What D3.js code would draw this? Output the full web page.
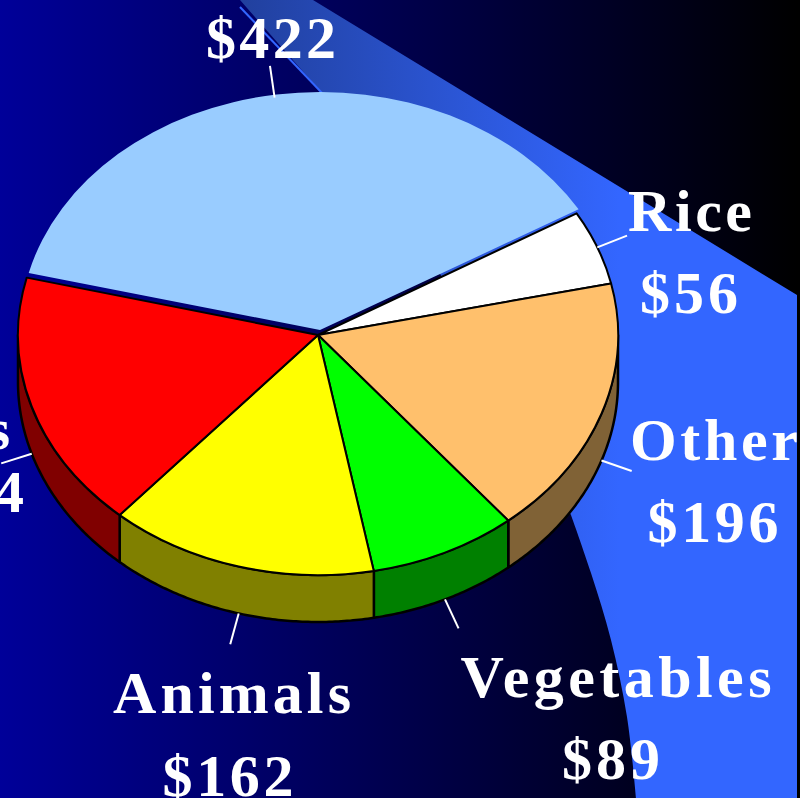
<!DOCTYPE html>
<html><head><meta charset="utf-8">
<style>html,body{margin:0;padding:0;background:#fff}svg{display:block}</style>
<script src="https://cdn.jsdelivr.net/npm/d3@7"></script></head>
<body><svg id="c" width="800" height="798"></svg>
<script>
const categories = ["", "Rice", "Other", "Vegetables", "Animals", "Fruits"];
const values = [422, 56, 196, 89, 162, 194];
const topColors = ["#99ccff", "#ffffff", "#ffc06c", "#00ff00", "#ffff00", "#ff0000"];
const sideColors = ["#4c6680", "#808080", "#806236", "#008000", "#808000", "#800000"];

const W = 797, H = 798, cx = 318, cy = 335, rx = 300, ry = 240, depth = 47;
const startDeg = 283.8;
const svg = d3.select("#c");
const defs = svg.append("defs");
const bg = defs.append("linearGradient").attr("id","bg").attr("gradientUnits","userSpaceOnUse")
  .attr("x1",0).attr("x2",W).attr("y1",0).attr("y2",0);
bg.append("stop").attr("offset",0).attr("stop-color","#000099");
bg.append("stop").attr("offset",1).attr("stop-color","#000000");
const bandGrad = defs.append("linearGradient").attr("id","band").attr("gradientUnits","userSpaceOnUse")
  .attr("x1",240).attr("x2",620).attr("y1",0).attr("y2",0);
bandGrad.append("stop").attr("offset",0).attr("stop-color","#21409e");
bandGrad.append("stop").attr("offset",1).attr("stop-color","#3366ff");

svg.append("rect").attr("width",800).attr("height",H).attr("fill","url(#bg)");

const bandCurve = d3.line().curve(d3.curveCatmullRom)([[636,798],[627,717],[611,640],[591,573],[571,515]]);
const bandTop = d3.line()([[571,515],[400,200],[322,93],[240,0],[313,0],[797,295],[797,798]]);
svg.append("path").attr("d", bandCurve + bandTop.replace(/^M/,"L") + "Z").attr("fill","url(#band)");
svg.append("path").attr("d", d3.line()([[240,7],[322,93]])).attr("fill","none").attr("stroke","#3366ff").attr("stroke-width",2);

const pie = d3.pie().sort(null).value(d=>d)
  .startAngle(startDeg*Math.PI/180).endAngle((startDeg+360)*Math.PI/180);
const arcs = pie(values);
const arc = d3.arc().innerRadius(0).outerRadius(1);
const px = a => cx + rx*Math.sin(a), py = a => cy - ry*Math.cos(a);
const norm = a => { const t = 2*Math.PI; return ((a%t)+t)%t; };

const g = svg.append("g");
const wall = d3.area().x(a=>px(a)).y0(a=>py(a)).y1(a=>py(a)+depth);
const lo = Math.PI/2, hi = 3*Math.PI/2;
arcs.forEach((d,i)=>{
  const span = d.endAngle-d.startAngle;
  const s0 = norm(d.startAngle), s1 = s0+span;
  const a0 = Math.max(s0,lo), a1 = Math.min(s1,hi);
  if (a1<=a0) return;
  const samples = d3.range(a0,a1,0.01).concat([a1]);
  g.append("path").attr("d",wall(samples)).attr("fill",sideColors[i]).attr("stroke","#000").attr("stroke-width",2.5).attr("stroke-linejoin","round");
});
arcs.forEach((d,i)=>{
  const exploded = i===0;
  const dx = exploded?2:0, dy = exploded?-5:0, sy = exploded?238:ry;
  g.append("path")
   .attr("transform",`translate(${cx+dx},${cy+dy}) scale(${rx},${sy})`)
   .attr("d",arc(d))
   .attr("fill",topColors[i])
   .attr("stroke",exploded?"none":"#000")
   .attr("stroke-width",exploded?0:2)
   .attr("stroke-linejoin","round")
   .attr("vector-effect","non-scaling-stroke");
});
const leaderLen = 32;
arcs.forEach((d,i)=>{
  const a = norm((d.startAngle+d.endAngle)/2);
  const drop = (a>lo && a<hi) ? depth : 0;
  const x0 = px(a), y0 = py(a)+drop;
  svg.append("line").attr("x1",x0).attr("y1",y0)
    .attr("x2",x0+leaderLen*Math.sin(a)).attr("y2",y0-leaderLen*Math.cos(a))
    .attr("stroke","#fff").attr("stroke-width",2);
});
const labels = svg.append("g").attr("font-family","'Liberation Serif','Times New Roman',serif").attr("font-weight","bold").attr("fill","#fff").attr("font-size",60);
const labelPos = [
  {x:271, vx:271, vy:58, vw:130},
  {x:690, y:231, w:124, vx:689, vy:313, vw:98},
  {x:714, y:460, w:168, vx:713, vy:542, vw:131},
  {x:616, y:697, w:311, vx:611, vy:779, vw:98},
  {x:232, y:713, w:238, vx:228, vy:796, vw:131},
  {x:-60, y:449, w:140, vx:-41, vy:512, vw:130}
];
labelPos.forEach((b,i)=>{
  if (categories[i]) labels.append("text").attr("x",b.x).attr("y",b.y).attr("text-anchor","middle")
     .attr("textLength",b.w).attr("lengthAdjust","spacing").text(categories[i]);
  labels.append("text").attr("x",b.vx).attr("y",b.vy).attr("text-anchor","middle")
     .attr("textLength",b.vw).attr("lengthAdjust","spacing").text("$"+values[i]);
});
</script></body></html>
